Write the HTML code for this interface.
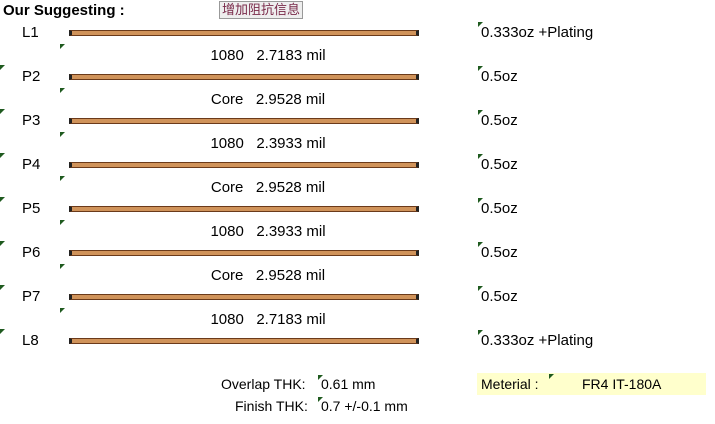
<!DOCTYPE html>
<html><head><meta charset="utf-8"><style>
body{margin:0;width:715px;height:424px;background:#fff;position:relative;overflow:hidden;font-family:"Liberation Sans","Noto Sans CJK SC",sans-serif;color:#000}
.a{position:absolute;white-space:nowrap}
.t{font-size:14px}
.bar{position:absolute;left:69px;width:350px;height:4px;background:#d0935a;border-top:1px solid #6b3a1a;border-bottom:1px solid #6b3a1a;border-left:3px solid #222;border-right:3px solid #222;box-sizing:border-box;height:6px}
.tri{position:absolute;width:0;height:0;border-top:5px solid #1f5a1f;border-right:5px solid transparent}
</style></head><body>
<div class="a" style="left:3px;top:2px;font-size:15px;font-weight:bold">Our Suggesting :</div>
<div class="a" style="left:219px;top:1px;font-size:13px;color:#7a2a4a;background:#eee;border:1px solid #999;padding:0 2px;line-height:16px">增加阻抗信息</div>
<div id="stack"></div>
<div class="a t" style="left:221px;top:376px">Overlap THK:</div>
<div class="tri" style="left:318px;top:375px"></div>
<div class="a t" style="left:321px;top:376px">0.61 mm</div>
<div class="a t" style="left:235px;top:398px">Finish THK:</div>
<div class="tri" style="left:318px;top:397px"></div>
<div class="a t" style="left:321px;top:398px">0.7 +/-0.1 mm</div>
<div class="a" style="left:477px;top:373px;width:229px;height:22px;background:#ffffcc"></div>
<div class="a t" style="left:481px;top:376px">Meterial :</div>
<div class="tri" style="left:549px;top:374px"></div>
<div class="a t" style="left:582px;top:376px">FR4 IT-180A</div>
<script>
const layers=["L1","P2","P3","P4","P5","P6","P7","L8"];
const copper=["0.333oz +Plating","0.5oz","0.5oz","0.5oz","0.5oz","0.5oz","0.5oz","0.333oz +Plating"];
const dielType=["1080","Core","1080","Core","1080","Core","1080"];
const dielThk=["2.7183","2.9528","2.3933","2.9528","2.3933","2.9528","2.7183"];
const s=document.getElementById('stack');
function add(html,x,y,name,cls){const d=document.createElement('div');d.className=cls||'a t';d.style.left=x+'px';d.style.top=y+'px';d.innerHTML=html;


s.appendChild(d);return d;}
layers.forEach((L,i)=>{const y=33+i*44;
add(L,22,y-9,'layer-label-'+L.toLowerCase()).style.fontSize='15px';
add('',69,y-3,'copper-bar-'+L.toLowerCase(),'bar');
add('',478,y-11,'comment-marker','tri');
add(copper[i],481,y-9,'copper-weight-'+L.toLowerCase()).style.fontSize='15px';
if(i>0)add('',0,y-12,'comment-marker','tri');
if(i<dielType.length){
add('',60,y+11,'comment-marker','tri');
const d=add(dielType[i]+'&nbsp;&nbsp;&nbsp;'+dielThk[i]+' mil',0,y+14,'dielectric-'+(i+1));
d.style.width='536px';d.style.textAlign='center';d.style.fontSize='15px';}
});
</script>
</body></html>
